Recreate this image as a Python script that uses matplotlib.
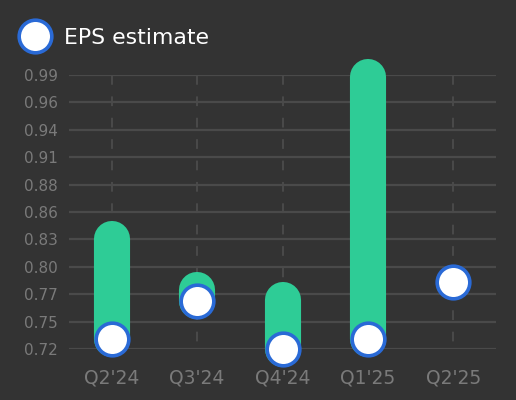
import matplotlib.pyplot as plt
from matplotlib.lines import Line2D
import numpy as np

quarters = ["Q2'24", "Q3'24", "Q4'24", "Q1'25", "Q2'25"]
eps_estimate = [0.73, 0.767, 0.72, 0.73, 0.786]
eps_actual = [0.828, 0.778, 0.768, 0.988, None]

yticks = np.linspace(0.72, 0.99, 11)
ytick_labels = ['0.72', '0.75', '0.77', '0.80', '0.83', '0.86',
                '0.88', '0.91', '0.94', '0.96', '0.99']

bg = '#333333'
green = '#2ecc96'
blue = '#2a6ad6'
grid_c = '#4a4a4a'
text_c = '#7a7a7a'

fig = plt.figure(figsize=(5.16, 4.0), dpi=100, facecolor=bg)
ax = fig.add_axes([69/516, 51/400, 427/516, 274/400])
ax.set_facecolor(bg)

x = np.arange(len(quarters))
ax.set_xlim(-0.5, len(quarters) - 0.5)
ax.set_ylim(0.72, 0.99)

# grid
for t in yticks:
    ax.axhline(t, color=grid_c, lw=1.6, zorder=0)
for xi in x:
    ax.plot([xi, xi], [0.99, 0.72], color=grid_c, lw=1.4, ls=(0, (5, 6)), zorder=0)

# bars from estimate to actual
for xi, e, a in zip(x, eps_estimate, eps_actual):
    if a is None:
        continue
    ax.plot([xi, xi], [e, a], color=green, lw=26, solid_capstyle='round',
            zorder=2, clip_on=False)

ax.plot(x, eps_estimate, 'o', ms=23.5, mfc='white', mec=blue, mew=2.6,
        zorder=3, clip_on=False)

ax.set_xticks(x)
ax.set_xticklabels(quarters, fontsize=13.5, color=text_c)
ax.set_yticks(yticks)
ax.set_yticklabels(ytick_labels, fontsize=11, color=text_c)
ax.tick_params(length=0, pad=8)
ax.tick_params(axis='x', pad=14)
for s in ax.spines.values():
    s.set_visible(False)

handle = Line2D([], [], marker='o', ls='', ms=23.5, mfc='white', mec=blue, mew=2.6)
leg = fig.legend([handle], ['EPS estimate'], loc='center left',
                 bbox_to_anchor=(2.5/516, 1 - 38/400), frameon=False, fontsize=15.8,
                 labelcolor='white', handletextpad=0.28, borderpad=0)

fig.savefig('out.png', dpi=100, facecolor=bg)
